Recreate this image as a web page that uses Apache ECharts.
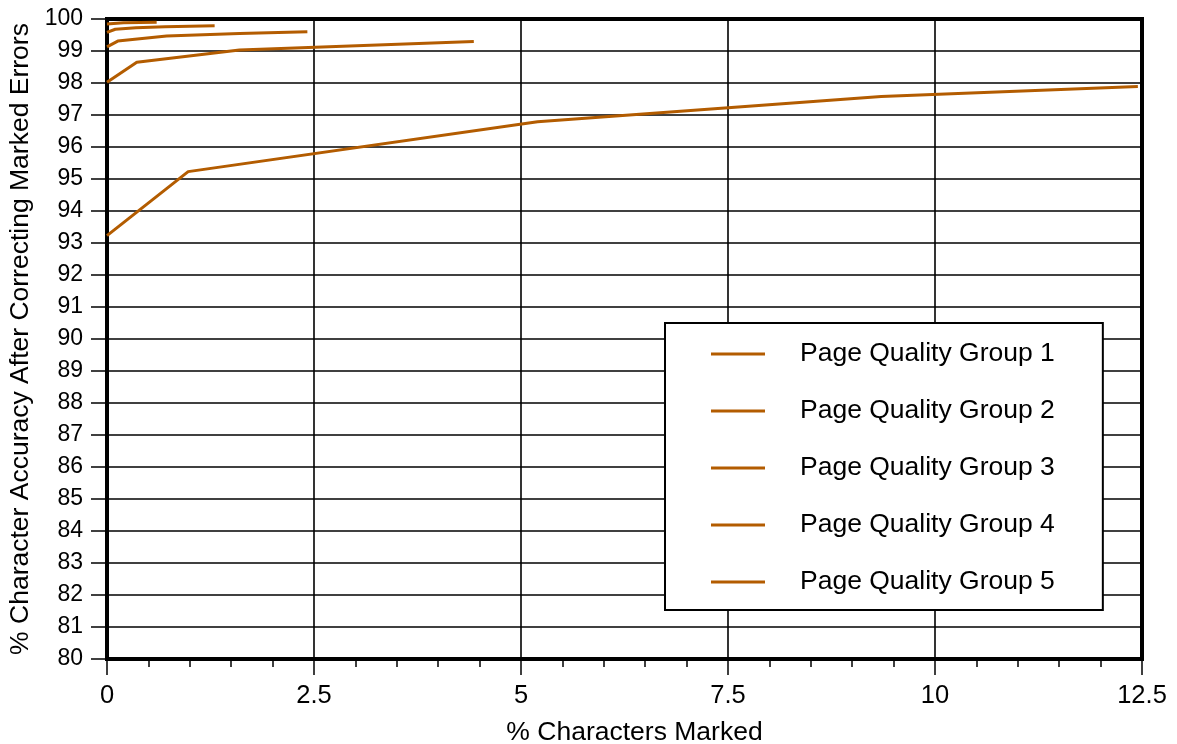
<!DOCTYPE html>
<html>
<head>
<meta charset="utf-8">
<script src="https://cdn.jsdelivr.net/npm/echarts@6/dist/echarts.min.js"></script>
<style>
  html, body { margin: 0; padding: 0; background: #fff; }
  #chart { width: 1177px; height: 744px; }
</style>
</head>
<body>
<div id="chart"></div>
<script>
// % characters marked (x) vs. % character accuracy after correcting marked errors (y)
const seriesNames = [
  'Page Quality Group 1',
  'Page Quality Group 2',
  'Page Quality Group 3',
  'Page Quality Group 4',
  'Page Quality Group 5'
];
const group1 = [[0, 99.84], [0.2, 99.88], [0.6, 99.9]];
const group2 = [[0, 99.58], [0.1, 99.68], [0.35, 99.73], [0.7, 99.76], [1.3, 99.79]];
const group3 = [[0, 99.13], [0.13, 99.31], [0.72, 99.47], [1.6, 99.55], [2.42, 99.6]];
const group4 = [[0, 98.02], [0.36, 98.65], [1.6, 99.03], [4.43, 99.3]];
const group5 = [[0, 93.23], [0.98, 95.23], [5.2, 96.79], [9.35, 97.58], [12.45, 97.89]];
const groups = [group1, group2, group3, group4, group5];

const xTickLabels = ['0', '2.5', '5', '7.5', '10', '12.5'];
const lineColor = '#b35c00';
const fontFamily = '"Liberation Sans", Arial, Helvetica, sans-serif';

const chart = echarts.init(document.getElementById('chart'), null, { renderer: 'canvas' });

chart.setOption({
  animation: false,
  backgroundColor: '#ffffff',
  textStyle: { fontFamily: fontFamily, color: '#000' },
  grid: {
    left: 107, right: 35, top: 19, bottom: 85,
    containLabel: false,
    outerBoundsMode: 'none',
    show: true, borderColor: '#000', borderWidth: 4, backgroundColor: 'transparent'
  },
  legend: {
    data: seriesNames,
    orient: 'vertical',
    left: 665,
    top: 323,
    padding: [16, 48, 13, 46],
    itemGap: 27,
    itemWidth: 54,
    itemHeight: 3,
    icon: 'rect',
    backgroundColor: '#ffffff',
    borderColor: '#000',
    borderWidth: 2,
    borderRadius: 0,
    textStyle: {
      fontFamily: fontFamily,
      fontSize: 26.5,
      color: '#000',
      lineHeight: 30,
      padding: [0, 0, 0, 30]
    }
  },
  xAxis: {
    type: 'value',
    min: 0,
    max: 12.5,
    interval: 2.5,
    name: '% Characters Marked',
    nameLocation: 'middle',
    nameGap: 60,
    nameTextStyle: { fontSize: 26.5, color: '#000', fontFamily: fontFamily, padding: [0, 0, 0, 20] },
    axisLine: { show: true, onZero: false, lineStyle: { color: '#000', width: 4 } },
    axisTick: { show: true, length: 16, lineStyle: { color: '#000', width: 1.5 } },
    minorTick: { show: true, splitNumber: 5, length: 8, lineStyle: { color: '#000', width: 1.5 } },
    axisLabel: {
      fontSize: 25.5, color: '#000', margin: 24, fontFamily: fontFamily,
      formatter: function (v) {
        const idx = Math.round(v / 2.5);
        return xTickLabels[idx] !== undefined ? xTickLabels[idx] : '';
      }
    },
    splitLine: { show: true, lineStyle: { color: '#000', width: 1.6 } }
  },
  yAxis: {
    type: 'value',
    min: 80,
    max: 100,
    interval: 1,
    name: '% Character Accuracy After Correcting Marked Errors',
    nameLocation: 'middle',
    nameGap: 73,
    nameTextStyle: { fontSize: 26.5, color: '#000', fontFamily: fontFamily },
    axisLine: { show: true, onZero: false, lineStyle: { color: '#000', width: 4 } },
    axisTick: { show: true, length: 16, lineStyle: { color: '#000', width: 1.5 } },
    axisLabel: { fontSize: 23, color: '#000', margin: 24, fontFamily: fontFamily },
    splitLine: { show: true, lineStyle: { color: '#000', width: 1.6 } }
  },
  series: groups.map(function (g, i) {
    return {
      name: seriesNames[i],
      type: 'line',
      data: g,
      color: lineColor,
      showSymbol: false,
      symbol: 'none',
      lineStyle: { color: lineColor, width: 3 },
      z: 3
    };
  })
});
</script>
</body>
</html>
